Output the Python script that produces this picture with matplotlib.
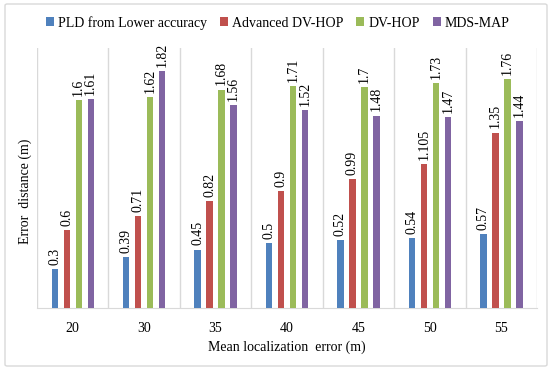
import numpy as np
import matplotlib
matplotlib.use("Agg")
from matplotlib import pyplot as plt
from matplotlib.patches import FancyBboxPatch

# data
categories = ["20", "30", "35", "40", "45", "50", "55"]
series_names = ["PLD from Lower accuracy", "Advanced DV-HOP", "DV-HOP", "MDS-MAP"]
pld = [0.3, 0.39, 0.45, 0.5, 0.52, 0.54, 0.57]
adv_dvhop = [0.6, 0.71, 0.82, 0.9, 0.99, 1.105, 1.35]
dvhop = [1.6, 1.62, 1.68, 1.71, 1.7, 1.73, 1.76]
mdsmap = [1.61, 1.82, 1.56, 1.52, 1.48, 1.47, 1.44]
labels = [
    ["0.3", "0.39", "0.45", "0.5", "0.52", "0.54", "0.57"],
    ["0.6", "0.71", "0.82", "0.9", "0.99", "1.105", "1.35"],
    ["1.6", "1.62", "1.68", "1.71", "1.7", "1.73", "1.76"],
    ["1.61", "1.82", "1.56", "1.52", "1.48", "1.47", "1.44"],
]
colors = ["#4F81BD", "#C0504D", "#9BBB59", "#8064A2"]

plt.rcParams['font.family'] = ['Liberation Serif', 'DejaVu Serif']

fig = plt.figure(figsize=(5.5, 3.69), dpi=100)
ax = fig.add_axes([0.0673, 0.1653, 0.9091, 0.7046])

# light outer frame
frame = FancyBboxPatch((5 / 550, 3 / 369), 542 / 550, 362 / 369,
                       boxstyle="round,pad=0,rounding_size=0.004",
                       transform=fig.transFigure, fill=False,
                       edgecolor="#d9d9d9", linewidth=1.0)
fig.patches.append(frame)

x = np.arange(len(categories))
width = 0.09
step = 0.168
series = [pld, adv_dvhop, dvhop, mdsmap]
for i, (vals, name, col) in enumerate(zip(series, series_names, colors)):
    pos = x + (i - 1.5) * step
    ax.bar(pos, vals, width=width, color=col, label=name, zorder=3)
    for p, v, t in zip(pos, vals, labels[i]):
        ax.annotate(t, (p, v), xytext=(0, 3), textcoords="offset points",
                    rotation=90, ha="center", va="bottom", fontsize=10)

ax.set_xlim(-0.5, len(categories) - 0.5)
ax.set_ylim(0, 2.0)

# category separators
for b in np.arange(-0.5, len(categories), 1.0):
    ax.axvline(b, color="#d9d9d9", linewidth=1.0, zorder=1)

for s in ["top", "right", "left"]:
    ax.spines[s].set_visible(False)
ax.spines["bottom"].set_color("#d9d9d9")
ax.set_yticks([])
ax.set_xticks(x)
ax.set_xticklabels(categories, fontsize=10)
ax.tick_params(axis="x", length=0, pad=10)

ax.set_xlabel("Mean localization  error (m)", fontsize=10, labelpad=4)
ax.set_ylabel("Error  distance (m)", fontsize=10)
ax.yaxis.set_label_coords(-0.01, 0.45)

fig.legend(loc="center", bbox_to_anchor=(0.505, 0.938), ncol=4, frameon=False,
           fontsize=10, handlelength=0.6, handleheight=0.6, handletextpad=0.3,
           columnspacing=0.9)

fig.savefig("out.png", dpi=100)
